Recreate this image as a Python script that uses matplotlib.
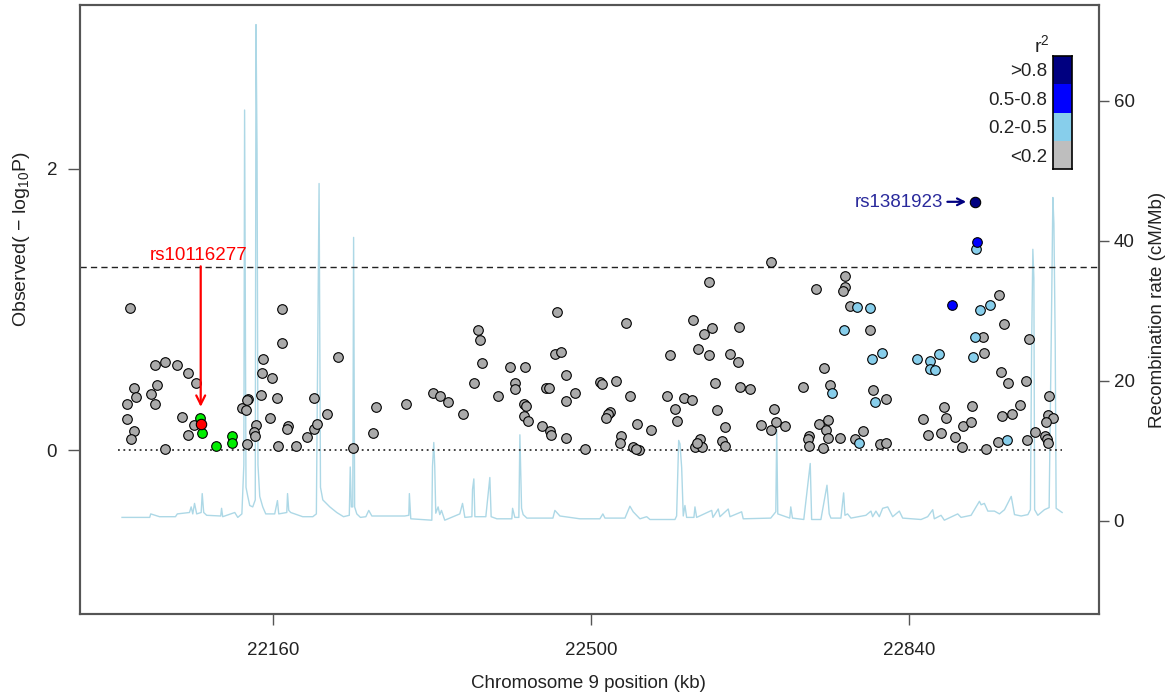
import matplotlib
matplotlib.use("Agg")
import matplotlib.pyplot as plt

plt.rcParams['font.family'] = ['Liberation Sans', 'DejaVu Sans']
plt.rcParams['mathtext.default'] = 'regular'

# SNP positions (kb) and -log10(P), grouped by r2 class
grey_pos = [22007, 22004, 22004, 22012, 22013.5, 22012, 22009, 22034, 22045, 22058,
            22069, 22078, 22036, 22030, 22034, 22045, 22063, 22069, 22076, 22127,
            22131, 22134, 22133, 22147, 22150, 22149, 22159, 22164, 22170, 22170,
            22157, 22142, 22140, 22141, 22133, 22166, 22176, 22175, 22185, 22197,
            22204, 22207, 22204, 22218, 22230, 22246, 22267, 22270, 22302, 22331,
            22339, 22347, 22363.5, 22375, 22379.5, 22381, 22384, 22401, 22414, 22430,
            22419, 22419, 22428, 22431, 22428, 22433, 22448, 22456, 22457, 22452,
            22455, 22464, 22461.5, 22468, 22473, 22473, 22483, 22473, 22494, 22510,
            22512, 22527, 22542, 22520, 22518.5, 22516, 22532, 22531, 22545, 22551,
            22548, 22549.5, 22564, 22537, 22581, 22590, 22592, 22585, 22599, 22608,
            22609, 22614, 22621, 22629, 22626, 22626, 22633, 22635, 22643, 22640,
            22643, 22616.5, 22611, 22619, 22613, 22649,
            22692, 22772, 22772, 22769, 22741, 22777, 22798, 22658, 22657, 22659,
            22670, 22682, 22692, 22698, 22707, 22696, 22749.5, 22727, 22755.5, 22744,
            22753, 22751, 22753, 22733, 22732, 22733, 22748, 22766, 22782, 22791,
            22802, 22815, 22809, 22815, 22855, 22860, 22877, 22880, 22874, 22889,
            22897, 22898, 22906, 22907, 22919.5, 22920.5, 22936, 22941, 22938, 22946,
            22965, 22968, 22959, 22950, 22939, 22922, 22935.5, 22966, 22975, 22990,
            22988, 22994, 22986.5, 22985, 22987, 22989]
grey_logp = [1.01, 0.33, 0.22, 0.445, 0.378, 0.137, 0.078, 0.603, 0.626, 0.603,
             0.551, 0.48, 0.463, 0.402, 0.331, 0.012, 0.236, 0.113, 0.184, 0.303,
             0.284, 0.362, 0.355, 0.39, 0.652, 0.551, 0.511, 0.369, 1.005, 0.764,
             0.227, 0.184, 0.13, 0.101, 0.047, 0.035, 0.172, 0.154, 0.035, 0.094,
             0.154, 0.189, 0.369, 0.262, 0.662, 0.019, 0.121, 0.31, 0.329, 0.41,
             0.388, 0.345, 0.26, 0.477, 0.853, 0.787, 0.619, 0.388, 0.594, 0.594,
             0.477, 0.435, 0.329, 0.312, 0.243, 0.21, 0.177, 0.137, 0.113, 0.445,
             0.445, 0.979, 0.686, 0.695, 0.537, 0.352, 0.411, 0.092, 0.009, 0.487,
             0.47, 0.494, 0.388, 0.274, 0.262, 0.232, 0.101, 0.052, 0.028, 0.002,
             0.012, 0.187, 0.144, 0.903, 0.388, 0.293, 0.21, 0.679, 0.369, 0.359,
             0.922, 0.721, 0.828, 0.87, 1.196, 0.679, 0.477, 0.286, 0.168, 0.064,
             0.031, 0.078, 0.026, 0.026, 0.054, 0.686,
             1.338, 1.239, 1.158, 1.13, 1.147, 1.028, 0.853, 0.879, 0.629, 0.452,
             0.438, 0.184, 0.144, 0.203, 0.177, 0.293, 0.586, 0.452, 0.463, 0.191,
             0.213, 0.144, 0.087, 0.106, 0.083, 0.035, 0.016, 0.087, 0.078, 0.137,
             0.428, 0.362, 0.043, 0.05, 0.22, 0.111, 0.31, 0.227, 0.125, 0.094,
             0.026, 0.172, 0.201, 0.319, 0.804, 0.688, 1.106, 0.896, 0.56, 0.48,
             0.496, 0.794, 0.326, 0.26, 0.243, 0.009, 0.062, 0.071, 0.13, 0.385,
             0.255, 0.227, 0.201, 0.106, 0.078, 0.054]

lblue_pos = [22912, 22784, 22798, 22770, 22758, 22787, 22800, 22811, 22804, 22849,
             22862.5, 22872, 22862.5, 22868, 22911, 22908, 22916, 22927, 22944.5]
lblue_logp = [1.43, 1.021, 1.012, 0.853, 0.411, 0.05, 0.652, 0.688, 0.345, 0.652,
              0.638, 0.681, 0.579, 0.57, 0.804, 0.662, 0.995, 1.035, 0.071]

blue_pos = [22913, 22886]
blue_logp = [1.48, 1.035]

navy_pos = [22911]
navy_logp = [1.764]

green_pos = [22082, 22084, 22099, 22116, 22116.5]
green_logp = [0.227, 0.125, 0.031, 0.106, 0.054]

red_pos = [22083]
red_logp = [0.189]

# recombination rate (cM/Mb)
recomb_kb = [21998.9, 22028.5, 22029.6, 22039, 22056, 22058, 22071, 22072.8, 22074.5, 22076.4,
             22078.7, 22083.5, 22084.6, 22086.2, 22089.4, 22104.4, 22105.3, 22106.5, 22119.4, 22122.6,
             22127, 22129.1, 22129.9, 22131.4, 22133.3, 22135.4, 22138.6, 22141.3, 22142.1, 22143.2,
             22144.2, 22146.1, 22149.3, 22152.5, 22162.1, 22165, 22166.4, 22175, 22175.8, 22177.1,
             22179.2, 22192, 22202.8, 22206.6, 22209.5, 22211, 22213.5, 22221, 22228.4, 22235.6,
             22241.8, 22242.8, 22244, 22245.5, 22246.4, 22247.5, 22249.8, 22253.7, 22259.5, 22262.6,
             22265.9, 22301, 22305.4, 22306, 22307.5, 22330, 22330.7, 22332.1, 22333.1, 22334.2,
             22336.7, 22338.5, 22340.3, 22343.8, 22359.9, 22362.8, 22365.3, 22372.8, 22373.5, 22374.9,
             22376, 22379.2, 22387.7, 22392, 22393.4, 22399.5, 22415.5, 22416.3, 22418.7, 22423,
             22424.1, 22425.9, 22427.6, 22431.6, 22459.4, 22461.5, 22466.9, 22488.2, 22509.6, 22512.8,
             22515, 22536.4, 22541.7, 22545.2, 22552.4, 22559.6, 22563.1, 22589.8, 22591.6, 22593.8,
             22595.2, 22597, 22598.7, 22600.5, 22602.3, 22610.1, 22611.2, 22613, 22629.1, 22630.4,
             22636.1, 22637.9, 22646.8, 22648.6, 22661.1, 22662.8, 22692.2, 22697.6, 22698.6, 22699.7,
             22712.5, 22713.6, 22715.4, 22727.5, 22734.4, 22735.9, 22745.8, 22752.3, 22754.7, 22756.5,
             22767.2, 22770.1, 22771.5, 22774.3, 22777.9, 22793.9, 22799.3, 22801.1, 22804.6, 22808.2,
             22811.8, 22817.2, 22822.5, 22829.6, 22833.2, 22852.8, 22859.9, 22865.3, 22867, 22874.2,
             22877.7, 22892, 22895.6, 22906.3, 22915.2, 22917, 22920.5, 22924.2, 22931.3, 22936.6,
             22942, 22949.2, 22952.7, 22959.8, 22967, 22969.7, 22971, 22972.3, 22973.4, 22974.2,
             22977.6, 22984.7, 22989.7, 22991.9, 22993.7, 22994.8, 22996.2, 22997.2, 23003.6]
recomb_rate = [0.5, 0.5, 1.0, 0.6, 0.6, 1.0, 1.2, 2.0, 1.0, 2.5,
               1.0, 1.2, 3.9, 1.2, 0.8, 0.7, 1.8, 0.6, 1.2, 0.5,
               1.0, 8.0, 58.7, 4.8, 3.5, 2.2, 2.0, 3.0, 70.9, 53.0,
               8.0, 3.5, 2.0, 1.0, 1.0, 2.9, 1.0, 1.2, 3.9, 1.5,
               1.2, 0.6, 0.6, 1.0, 48.2, 4.8, 3.0, 2.0, 1.2, 0.6,
               0.8, 7.7, 2.0, 2.0, 40.5, 2.0, 1.0, 0.5, 0.6, 1.5,
               0.7, 0.7, 0.8, 3.9, 0.3, 0.1, 7.8, 11.2, 7.8, 1.1,
               2.0, 0.9, 1.5, 0.1, 1.0, 2.5, 0.5, 0.6, 4.5, 6.0,
               0.6, 0.6, 0.6, 6.2, 0.6, 0.3, 0.3, 1.8, 0.5, 0.5,
               12.3, 1.8, 0.9, 0.4, 0.4, 1.5, 0.7, 0.3, 0.3, 1.0,
               0.4, 0.4, 2.1, 1.3, 0.3, 0.6, 0.2, 0.2, 0.7, 11.5,
               11.0, 7.6, 0.7, 2.2, 0.5, 0.5, 2.0, 0.5, 1.5, 0.5,
               1.7, 0.6, 1.7, 0.6, 1.3, 0.3, 0.4, 1.3, 13.1, 1.0,
               0.4, 2.0, 0.4, 0.2, 8.2, 0.2, 0.2, 5.1, 1.0, 0.4,
               0.4, 4.0, 0.8, 1.0, 0.4, 0.8, 1.4, 0.6, 1.4, 0.6,
               1.8, 2.0, 0.6, 1.4, 0.4, 0.2, 0.6, 1.6, 0.3, 0.8,
               0.1, 1.0, 0.5, 0.8, 2.8, 2.3, 2.5, 1.4, 1.4, 1.0,
               1.6, 3.5, 0.9, 0.7, 0.9, 1.6, 25.0, 38.8, 34.7, 1.6,
               0.8, 1.6, 1.9, 25.4, 46.2, 42.5, 25.4, 1.8, 1.2]

x_ticks = [22160, 22500, 22840]
y_ticks = [0, 2]
r_ticks = [0, 20, 40, 60]
legend_labels = ['<0.2', '0.2-0.5', '0.5-0.8', '>0.8']
legend_colors = ['#bebebe', '#87ceeb', '#0000ff', '#000080']

W, H = 1171, 694
fig = plt.figure(figsize=(W / 100, H / 100), dpi=100)
ax = fig.add_axes([80 / W, 1 - 614 / H, 1019 / W, 609 / H])
ax_r = ax.twinx()

spine_col = '#555555'
fs = 13.5

# recombination line on the right axis, drawn underneath
ax_r.plot(recomb_kb, recomb_rate, color='#add8e6', lw=1.0)
ax_r.set_ylim(-13.3, 73.7)
ax_r.set_yticks(r_ticks)
ax_r.tick_params(axis='y', direction='out', length=7.5, width=1, color=spine_col,
                 labelsize=fs, labelcolor='#222222', pad=3)
ax.set_zorder(ax_r.get_zorder() + 1)
ax.patch.set_visible(False)

ax.axhline(1.301, color='#222222', lw=1.0, ls=(0, (4.5, 3)))
ax.plot([21995, 23003], [0, 0], color='#333333', lw=1.3, ls=(0, (1, 2)))

ms = 48
ek = dict(edgecolors='black', linewidths=0.8, zorder=3)
ax.scatter(grey_pos, grey_logp, s=ms, c='#aaaaaa', **ek)
ax.scatter(lblue_pos, lblue_logp, s=ms, c='#87ceeb', **ek)
ax.scatter(blue_pos, blue_logp, s=ms, c='#0000ff', **ek)
ax.scatter(navy_pos, navy_logp, s=ms + 8, c='#000080', **ek)
ax.scatter(green_pos, green_logp, s=ms, c='#00ee00', **ek)
ax.scatter(red_pos, red_logp, s=ms + 8, c='#ff0000', **ek)

# annotations
ax.annotate('', xy=(red_pos[0], 0.29), xytext=(red_pos[0], 1.326),
            arrowprops=dict(arrowstyle='->', color='red', lw=1.6, mutation_scale=16))
ax.text(22081, 1.383, 'rs10116277', color='red', ha='center', va='center', fontsize=fs)
ax.annotate('', xy=(22904, navy_logp[0]), xytext=(22878, navy_logp[0]),
            arrowprops=dict(arrowstyle='->', color='#000080', lw=1.6, mutation_scale=12))
ax.text(22876, navy_logp[0] - 0.005, 'rs1381923', color='#2a2a9c', ha='right', va='center',
        fontsize=fs)

ax.set_xlim(21954, 23043)
ax.set_ylim(-1.16, 3.16)
ax.set_xticks(x_ticks)
ax.set_yticks(y_ticks)
ax.tick_params(axis='x', direction='out', length=8, width=1, color=spine_col,
               labelsize=fs, labelcolor='#222222', pad=12)
ax.tick_params(axis='y', direction='out', length=8.5, width=1, color=spine_col,
               labelsize=fs, labelcolor='#222222', pad=8)
for a in (ax, ax_r):
    for sp in a.spines.values():
        sp.set_color(spine_col)
        sp.set_linewidth(1.5)

fig.text(22 / W, 1 - 239 / H, 'Observed( \u2212 log$_{10}$P)', rotation=90,
         ha='center', va='center', fontsize=14, color='#222222')
fig.text(588 / W, 1 - 683 / H, 'Chromosome 9 position (kb)', ha='center', va='center',
         fontsize=fs, color='#222222')
fig.text(1157 / W, 1 - 310 / H, 'Recombination rate (cM/Mb)', rotation=90,
         ha='center', va='center', fontsize=fs, color='#222222')

# r2 legend
lg = fig.add_axes([1052.7 / W, 1 - 169.3 / H, 19.3 / W, 113.6 / H])
lg.bar([0] * 4, [1] * 4, bottom=range(4), width=1, color=legend_colors)
lg.set_xlim(-0.5, 0.5)
lg.set_ylim(0, 4)
lg.set_xticks([])
lg.set_yticks([0.5, 1.5, 2.5, 3.5])
lg.set_yticklabels(legend_labels)
lg.tick_params(axis='y', length=0, pad=4, labelsize=13.5, labelcolor='#222222')
for sp in lg.spines.values():
    sp.set_linewidth(1.2)
fig.text(1041.7 / W, 1 - 45 / H, 'r$^2$', ha='center', va='center', fontsize=14,
         color='#222222')

fig.savefig('out.png', dpi=100)
